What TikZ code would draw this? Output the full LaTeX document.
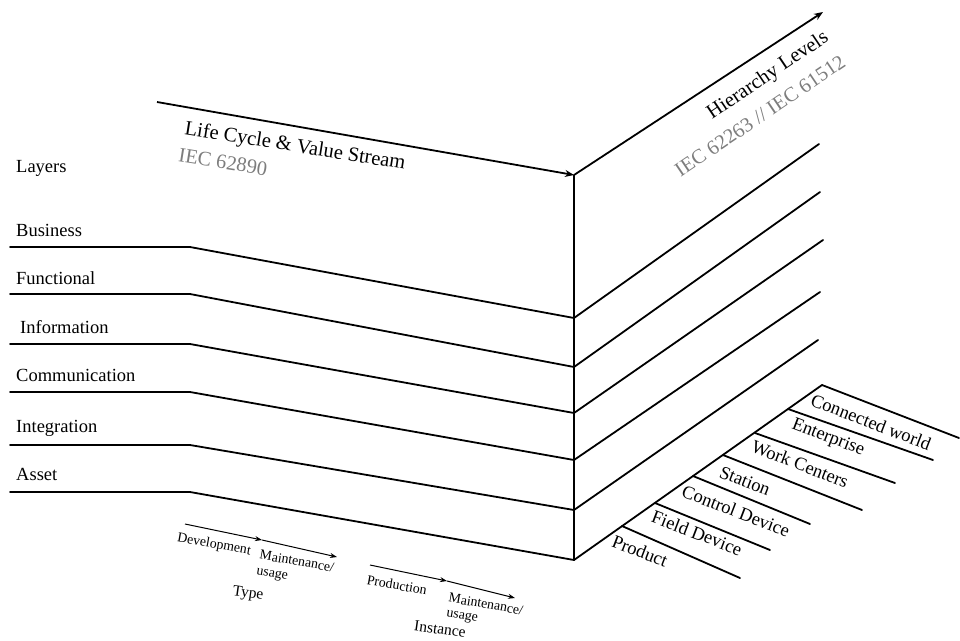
\documentclass[tikz,border=0pt]{standalone}
\usepackage{fontspec}
\setmainfont{Liberation Serif}
\usetikzlibrary{arrows.meta}
\definecolor{stdgray}{RGB}{125,125,125}
\tikzset{
  mainline/.style={line width=1.8pt, line cap=round},
  mainarrow/.style={line width=1.8pt, -{Stealth[length=9pt,width=7pt]}},
  smallarrow/.style={line width=1pt, -{Stealth[length=7pt,width=5pt]}},
  layerlabel/.style={anchor=west, inner sep=0pt, font=\fontsize{18.5}{20}\selectfont},
  levellabel/.style={inner sep=0pt, rotate=-21, font=\fontsize{18.5}{20}\selectfont},
  axistitle/.style={inner sep=0pt, font=\fontsize{20.5}{22}\selectfont},
  stdlabel/.style={inner sep=0pt, text=stdgray, font=\fontsize{20.5}{22}\selectfont},
  phaselabel/.style={inner sep=0pt, rotate=-10, font=\fontsize{13.8}{14.5}\selectfont, align=center},
  grouplabel/.style={inner sep=0pt, rotate=-8, font=\fontsize{15.5}{17}\selectfont}
}
\begin{document}
\begin{tikzpicture}[x=1pt,y=-1pt]
\useasboundingbox (0,0) rectangle (960,640);

% corner of the cube and axis end points
\coordinate (corner) at (574,175);
\coordinate (base)   at (574,560);
\coordinate (lcStart) at (157,102);
\coordinate (hlEnd)   at (823,12);

% axes
\draw[mainarrow] (lcStart) -- (corner);
\draw[mainarrow] (corner) -- (hlEnd);
\draw[mainline] (corner) -- (base);

% layer separators: front face (left) and side face (right)
\foreach \name/\yl/\yc/\xe/\ye in {
  bus/247/318/819/144,
  fun/294/367/820/192,
  inf/344/413/823/240,
  com/392/460/820/292,
  int/445/510/818/340}{
  \coordinate (\name L) at (10,\yl);
  \coordinate (\name K) at (190,\yl);
  \coordinate (\name C) at (574,\yc);
  \coordinate (\name R) at (\xe,\ye);
  \draw[mainline] (\name L) -- (\name K) -- (\name C) -- (\name R);
}
% bottom layer and hierarchy floor
\coordinate (assL) at (10,492);
\coordinate (assK) at (190,492);
\coordinate (floorEnd) at (822,385);
\draw[mainline] (assL) -- (assK) -- (base) -- (floorEnd);

% hierarchy level ticks
\foreach \name/\xs/\ys/\xe/\ye in {
  prod/622/526/740/578,
  field/655/503/770/550,
  ctrl/693/476/810/524,
  stat/723/455/862/510,
  work/755/433/895/483,
  ent/788/409/933/460,
  conn/822/385/959/438}{
  \coordinate (\name S) at (\xs,\ys);
  \coordinate (\name E) at (\xe,\ye);
  \draw[mainline] (\name S) -- (\name E);
}

% layer names
\node[layerlabel] (layers) at (16,168) {Layers};
\node[layerlabel] (business) at (16,230) {Business};
\node[layerlabel] (functional) at (16,278) {Functional};
\node[layerlabel] (information) at (20,327) {Information};
\node[layerlabel] (communication) at (16,375) {Communication};
\node[layerlabel] (integration) at (16,428) {Integration};
\node[layerlabel] (asset) at (16,474) {Asset};

% axis titles
\node[axistitle, rotate=-9] (lcTitle) at (295,147) {Life Cycle \& Value Stream};
\node[stdlabel, rotate=-9] (lcStd) at (223,162) {IEC 62890};
\node[axistitle, rotate=34] (hlTitle) at (768,76) {Hierarchy Levels};
\node[stdlabel, rotate=34] (hlStd) at (760,116) {IEC 62263 // IEC 61512};

% hierarchy level names
\node[levellabel] (product) at (640,551) {Product};
\node[levellabel] (fielddev) at (697,533) {Field Device};
\node[levellabel] (ctrldev) at (736,511) {Control Device};
\node[levellabel] (station) at (745,481) {Station};
\node[levellabel] (workc) at (800,464) {Work Centers};
\node[levellabel] (enterprise) at (828,438) {Enterprise};
\node[levellabel] (connworld) at (871,422) {Connected world};

% life cycle phases
\coordinate (tA) at (185,524);
\coordinate (tB) at (262,540);
\coordinate (tC) at (337,557);
\coordinate (iA) at (370,565);
\coordinate (iB) at (447,581);
\coordinate (iC) at (515,598);
\draw[smallarrow] (tA) -- (tB);
\draw[smallarrow] (tB) -- (tC);
\draw[smallarrow] (iA) -- (iB);
\draw[smallarrow] (iB) -- (iC);

\node[phaselabel] (dev) at (214,545) {Development};
\node[phaselabel] (tMaint) at (297,561) {Maintenance/};
\node[phaselabel] (tUsage) at (272,575) {usage};
\node[grouplabel] (type) at (248,594) {Type};
\node[phaselabel] (prodn) at (397,585) {Production};
\node[phaselabel] (iMaint) at (486,604) {Maintenance/};
\node[phaselabel] (iUsage) at (462,617) {usage};
\node[grouplabel] (instance) at (440,629) {Instance};
\end{tikzpicture}
\end{document}
